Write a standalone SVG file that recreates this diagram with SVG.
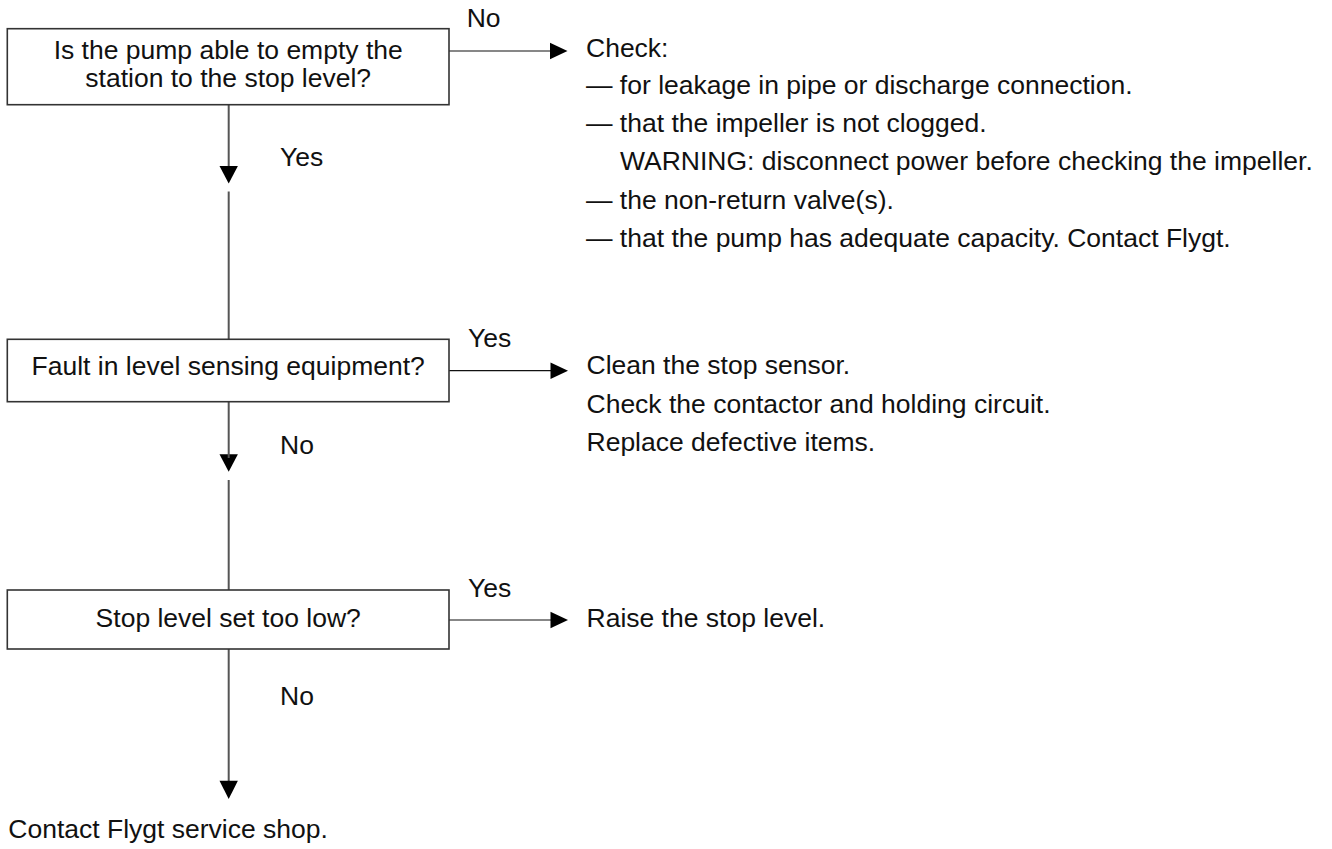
<svg xmlns="http://www.w3.org/2000/svg" width="1332" height="849" viewBox="0 0 1332 849">
<style>
text{font-family:"Liberation Sans",Arial,Helvetica,sans-serif;font-size:26.5px;fill:#111}
.c{text-anchor:middle}
.box{fill:#fff;stroke:#333;stroke-width:1.6}
.v{stroke:#555;stroke-width:2;fill:none}
.h{stroke:#111;stroke-width:1.2;fill:none}
.ah{fill:#000}
</style>
<rect width="1332" height="849" fill="#fff"/>
<g id="connectors">
<line class="v" x1="228.7" y1="104.7" x2="228.7" y2="170"/>
<polygon class="ah" points="219.5,166 237.9,166 228.7,183.5"/>
<line class="v" x1="228.7" y1="191.5" x2="228.7" y2="339.3"/>
<polygon class="ah" points="219.5,454.3 237.9,454.3 228.7,471.8"/>
<line class="v" x1="228.7" y1="401.7" x2="228.7" y2="458"/>
<line class="v" x1="228.7" y1="480" x2="228.7" y2="590"/>
<line class="v" x1="228.7" y1="649" x2="228.7" y2="784"/>
<polygon class="ah" points="219.5,780.7 237.9,780.7 228.7,799"/>
<line class="h" x1="449" y1="51" x2="552" y2="51"/>
<polygon class="ah" points="550,42.7 550,59.3 567.5,51"/>
<line class="h" x1="449" y1="370.7" x2="552" y2="370.7"/>
<polygon class="ah" points="550.5,362.4 550.5,379 568,370.7"/>
<line class="h" x1="449" y1="620" x2="552" y2="620"/>
<polygon class="ah" points="550.5,611.7 550.5,628.3 568,620"/>
<text x="466.7" y="26.7">No</text>
<text x="280" y="165.7">Yes</text>
<text x="468" y="346.7">Yes</text>
<text x="280" y="454">No</text>
<text x="468" y="597.3">Yes</text>
<text x="280" y="705">No</text>
</g>
<g id="q1">
<rect class="box" x="7.3" y="28.7" width="441.7" height="76"/>
<text class="c" x="228.2" y="59.3">Is the pump able to empty the</text>
<text class="c" x="228.2" y="87.3">station to the stop level?</text>
</g>
<g id="a1">
<text x="586" y="56.7">Check:</text>
<text x="586" y="94.3">— for leakage in pipe or discharge connection.</text>
<text x="586" y="131.7">— that the impeller is not clogged.</text>
<text x="620" y="170">WARNING: disconnect power before checking the impeller.</text>
<text x="586" y="209">— the non-return valve(s).</text>
<text x="586" y="246.7">— that the pump has adequate capacity. Contact Flygt.</text>
</g>
<g id="q2">
<rect class="box" x="7.3" y="339.3" width="441.7" height="62.4"/>
<text class="c" x="228.2" y="375">Fault in level sensing equipment?</text>
</g>
<g id="a2">
<text x="586.5" y="374.3">Clean the stop sensor.</text>
<text x="586.5" y="412.7">Check the contactor and holding circuit.</text>
<text x="586.5" y="451">Replace defective items.</text>
</g>
<g id="q3">
<rect class="box" x="7.3" y="590" width="441.7" height="59"/>
<text class="c" x="228.2" y="626.7">Stop level set too low?</text>
</g>
<g id="a3">
<text x="586.5" y="626.7">Raise the stop level.</text>
</g>
<g id="end">
<text x="8.3" y="838.3">Contact Flygt service shop.</text>
</g>
</svg>
